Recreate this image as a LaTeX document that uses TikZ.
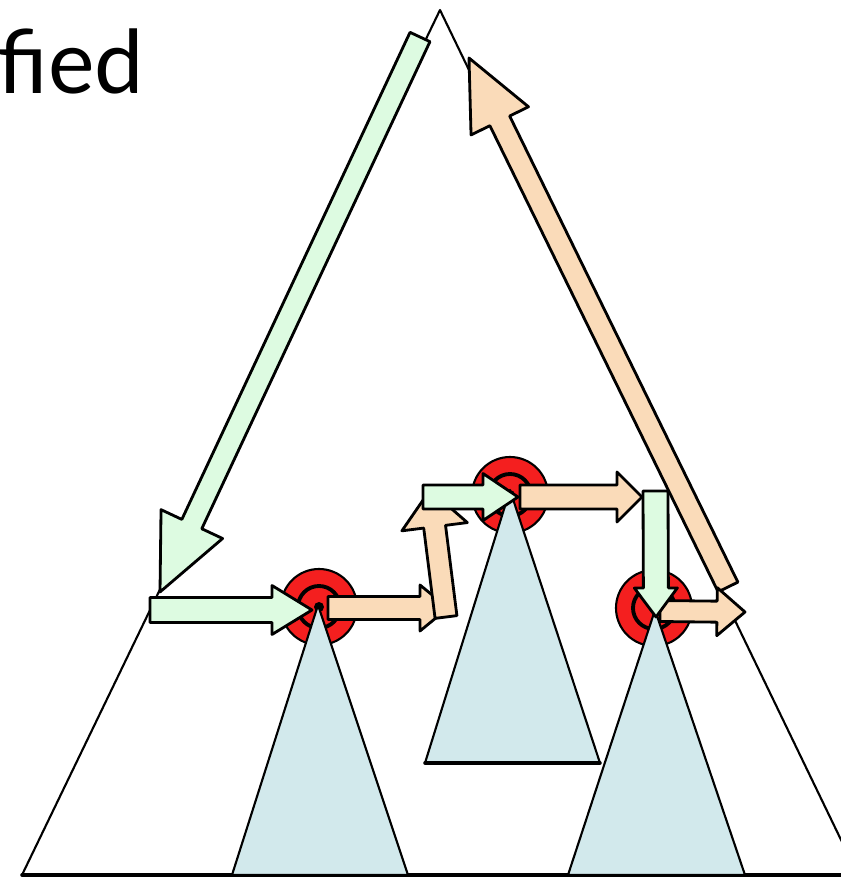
\documentclass[tikz,border=0pt]{standalone}
\usepackage{fontspec}
\setsansfont{Lato}
\usetikzlibrary{calc}
\definecolor{FigureGreen}{HTML}{DDFBE1}
\definecolor{FigureOrange}{HTML}{FADBB9}
\definecolor{FigureRed}{HTML}{F41F1F}
\definecolor{FigureCyan}{HTML}{D2E9EC}
% block arrow: fill, tail, tip, shaft half width, head half width, head length
\newcommand{\blockarrow}[6]{%
  \path ($(#3)!#6!(#2)$) coordinate (hb);
  \draw[line width=0.8pt,fill=#1] ($(#2)!#4!90:(#3)$) -- ($(hb)!#4!90:(#3)$) -- ($(hb)!#5!90:(#3)$) -- (#3)
    -- ($(hb)!#5!-90:(#3)$) -- ($(hb)!#4!-90:(#3)$) -- ($(#2)!#4!-90:(#3)$) -- cycle;}

\begin{document}
\begin{tikzpicture}[line cap=round,line join=round]
  \useasboundingbox (0,0) rectangle (8.41,8.77);
  \node[anchor=base west,inner sep=0pt,font=\sffamily\fontsize{25}{25}\selectfont] (title) at (-0.03,7.83) {fied};
  \coordinate (top) at (4.40,8.67); \coordinate (bl) at (0.22,0.02); \coordinate (br) at (8.58,0.02);
  \draw[line width=0.6pt] (bl)--(top)--(br); \draw[line width=1pt] (bl)--(8.41,0.02);
  \coordinate (t1) at (3.19,2.70); \coordinate (t2) at (5.10,3.82); \coordinate (t3) at (6.54,2.69);
  \foreach \T in {t1,t2,t3}{\draw[fill=FigureRed,line width=0.6pt] (\T) circle (0.38);
    \draw[line width=1.1pt] (\T) circle (0.21); \fill (\T) circle (0.05);}
  \draw[fill=FigureCyan,line width=0.6pt] (3.18,2.72)--(2.32,0.02)--(4.08,0.02)--cycle;
  \draw[fill=FigureCyan,line width=0.6pt] (5.10,3.87)--(4.25,1.14)--(6.00,1.14)--cycle;
  \draw[line width=1pt] (4.25,1.14)--(6.00,1.14);
  \draw[fill=FigureCyan,line width=0.6pt] (6.55,2.67)--(5.68,0.02)--(7.45,0.02)--cycle;
  \coordinate (a0) at (4.20,8.40); \coordinate (a1) at (1.60,2.85);
  \coordinate (b0) at (1.50,2.67); \coordinate (b1) at (3.12,2.67);
  \coordinate (c0) at (3.28,2.69); \coordinate (c1) at (4.48,2.69);
  \coordinate (d0) at (4.46,2.60); \coordinate (d1) at (4.30,3.87);
  \coordinate (e0) at (4.23,3.80); \coordinate (e1) at (5.18,3.80);
  \coordinate (f0) at (5.20,3.80); \coordinate (f1) at (6.42,3.80);
  \coordinate (g0) at (6.555,3.86); \coordinate (g1) at (6.56,2.60);
  \coordinate (h0) at (6.60,2.66); \coordinate (h1) at (7.45,2.65);
  \coordinate (i0) at (7.28,2.90); \coordinate (i1) at (4.69,8.19);
  \blockarrow{FigureGreen}{a0}{a1}{0.11cm}{0.34cm}{0.75cm}
  \blockarrow{FigureGreen}{b0}{b1}{0.125cm}{0.245cm}{0.40cm}
  \blockarrow{FigureOrange}{c0}{c1}{0.115cm}{0.23cm}{0.28cm}
  \blockarrow{FigureOrange}{d0}{d1}{0.11cm}{0.33cm}{0.37cm}
  \blockarrow{FigureGreen}{e0}{e1}{0.12cm}{0.235cm}{0.35cm}
  \blockarrow{FigureOrange}{f0}{f1}{0.12cm}{0.25cm}{0.25cm}
  \blockarrow{FigureOrange}{i0}{i1}{0.11cm}{0.32cm}{0.70cm}
  \blockarrow{FigureOrange}{h0}{h1}{0.105cm}{0.24cm}{0.28cm}
  \blockarrow{FigureGreen}{g0}{g1}{0.125cm}{0.215cm}{0.29cm}
\end{tikzpicture}
\end{document}
